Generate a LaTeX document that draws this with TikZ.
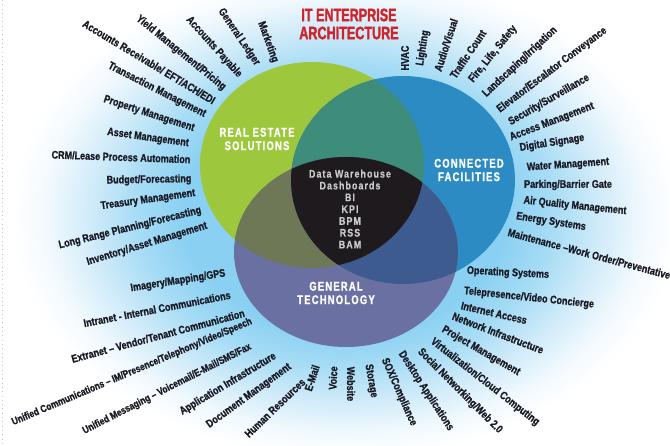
\documentclass[tikz,border=0pt]{standalone}
\usepackage{fontspec}
\setmainfont{Liberation Sans}
\newfontfamily\ringfont{Liberation Sans}[FakeStretch=0.82,FakeBold=1.1]
\newfontfamily\headfont{Liberation Sans}[FakeStretch=0.7,FakeBold=1.6]
\newfontfamily\vennfont{Liberation Sans}[FakeStretch=0.75,LetterSpace=10,FakeBold=1.2]
\newfontfamily\corefont{Liberation Sans}[FakeStretch=0.8,LetterSpace=10,FakeBold=0.6]

\definecolor{reGreen}{HTML}{9DC73C}
\definecolor{cfBlue}{HTML}{2D8BC3}
\definecolor{gtPurple}{HTML}{6B70A2}
\definecolor{gbTeal}{HTML}{3E8C7A}
\definecolor{gpOlive}{HTML}{6E7756}
\definecolor{bpNavy}{HTML}{3D5B8E}
\definecolor{coreBlack}{HTML}{1E1A1D}
\definecolor{coreText}{HTML}{C9C9CB}
\definecolor{ringText}{HTML}{1B1B26}
\definecolor{titleRed}{HTML}{D0232B}
\definecolor{glowA}{HTML}{8AD0F2}
\definecolor{glowB}{HTML}{A6DCF5}
\definecolor{glowC}{HTML}{D0EBF9}
\definecolor{glowD}{HTML}{F3FAFE}

% soft halo behind the diagram (25bp = rim of the shaded path)
\pgfdeclareradialshading{glow}{\pgfpoint{0bp}{0bp}}{color(0bp)=(glowA); color(12bp)=(glowA); color(15.5bp)=(glowB); color(19bp)=(glowC); color(22.5bp)=(glowD); color(25bp)=(white); color(50bp)=(white)}

% the three sets of the diagram
\newcommand\greenpath{(312,165) ellipse (112 and 103)}
\newcommand\bluepath{(403,180) ellipse (112 and 104)}
\newcommand\purplepath{(346,252) ellipse (112 and 95)}

\tikzset{
  ring/.style={font=\ringfont\bfseries\fontsize{11}{12}\selectfont, text=ringText, inner sep=0pt},
  longring/.style={ring, font=\ringfont\bfseries\fontsize{10.3}{12}\selectfont},
  headline/.style={font=\headfont\bfseries\fontsize{18}{18}\selectfont, text=titleRed, inner sep=0pt},
  vennlabel/.style={font=\vennfont\bfseries\fontsize{12.5}{13.5}\selectfont, text=white, align=center, inner sep=0pt},
  corelabel/.style={font=\corefont\bfseries\fontsize{11}{11.8}\selectfont, text=coreText, align=center, inner sep=0pt},
}

\begin{document}
\begin{tikzpicture}[x=1pt,y=-1pt]
\useasboundingbox (0,0) rectangle (670,446);
\fill[white] (0,0) rectangle (670,446);
\shade[shading=glow] (345,215) ellipse (335 and 245);
\draw[gray!45, line width=0.7pt, dash pattern=on 0.8pt off 3.5pt] (2,0) -- (2,446);

% Venn regions
\fill[reGreen] \greenpath;
\fill[cfBlue] \bluepath;
\fill[gtPurple] \purplepath;
\begin{scope}\clip \greenpath; \fill[gbTeal] \bluepath; \end{scope}
\begin{scope}\clip \greenpath; \fill[gpOlive] \purplepath; \end{scope}
\begin{scope}\clip \bluepath; \fill[bpNavy] \purplepath; \end{scope}
\begin{scope}\clip \greenpath; \clip \bluepath; \fill[coreBlack] \purplepath; \end{scope}

% title
\node[headline] (title1) at (349,15) {IT ENTERPRISE};
\node[headline] (title2) at (349,33) {ARCHITECTURE};

% set names and the shared core
\node[vennlabel] (reLabel) at (257,139) {REAL ESTATE\\SOLUTIONS};
\node[vennlabel] (cfLabel) at (469,170) {CONNECTED\\FACILITIES};
\node[vennlabel] (gtLabel) at (336,293) {GENERAL\\TECHNOLOGY};
\node[corelabel] (core) at (350,209) {Data Warehouse\\Dashboards\\BI\\KPI\\BPM\\RSS\\BAM};

% real estate solutions
\node[ring, rotate=-70] (re01) at (268,42) {Marketing};
\node[ring, rotate=-56] (re02) at (239,37) {General Ledger};
\node[ring, rotate=-48] (re03) at (214,47) {Accounts Payable};
\node[ring, rotate=-39] (re04) at (181,53) {Yield Management/Pricing};
\node[ring, rotate=-31] (re05) at (149,62) {Accounts Receivable/ EFT/ACH/EDI};
\node[ring, rotate=-27] (re06) at (157,90) {Transaction Management};
\node[ring, rotate=-18] (re07) at (149,114) {Property Management};
\node[ring, rotate=-8] (re08) at (148,138) {Asset Management};
\node[ring, rotate=-2] (re09) at (121,157) {CRM/Lease Process Automation};
\node[ring, rotate=1] (re10) at (149,180) {Budget/Forecasting};
\node[ring, rotate=8] (re11) at (148,200) {Treasury Management};
\node[ring, rotate=14] (re12) at (130,228) {Long Range Planning/Forecasting};
\node[ring, rotate=17] (re13) at (147,244) {Inventory/Asset Management};

% general technology
\node[ring, rotate=9] (gt01) at (178,281) {Imagery/Mapping/GPS};
\node[ring, rotate=11] (gt02) at (157,309) {Intranet - Internal Communications};
\node[ring, rotate=15] (gt03) at (158,336) {Extranet – Vendor/Tenant Communication};
\node[longring, rotate=23] (gt04) at (132,372) {Unified Communications – IM/Presence/Telephony/Video/Speech};
\node[longring, rotate=27] (gt05) at (167,389) {Unified Messaging – Voicemail/E-Mail/SMS/Fax};
\node[ring, rotate=31] (gt06) at (228,384) {Application Infrastructure};
\node[ring, rotate=36] (gt07) at (249,396) {Document Management};
\node[ring, rotate=44] (gt08) at (275,408) {Human Resources};
\node[ring, rotate=72] (gt09) at (312,378) {E-Mail};
\node[ring, rotate=87] (gt10) at (333,378) {Voice};
\node[ring, rotate=-90] (gt11) at (351,384) {Website};
\node[ring, rotate=-80] (gt12) at (371,381) {Storage};
\node[ring, rotate=-66] (gt13) at (399,392) {SOX/Compliance};
\node[ring, rotate=-57] (gt14) at (426,391) {Desktop Applications};
\node[ring, rotate=-45] (gt15) at (460,391) {Social Networking/Web 2.0};
\node[ring, rotate=-38] (gt16) at (485,382) {Virtualization/Cloud Computing};
\node[ring, rotate=-30] (gt17) at (481,351) {Project Management};
\node[ring, rotate=-21] (gt18) at (498,333) {Network Infrastructure};
\node[ring, rotate=-13] (gt19) at (494,313) {Internet Access};
\node[ring, rotate=-6] (gt20) at (529,298) {Telepresence/Video Concierge};
\node[ring, rotate=-3] (gt21) at (508,273) {Operating Systems};

% connected facilities
\node[ring, rotate=90] (cf01) at (405,58) {HVAC};
\node[ring, rotate=81] (cf02) at (423,48) {Lighting};
\node[ring, rotate=72] (cf03) at (446,45) {Audio/Visual};
\node[ring, rotate=56] (cf04) at (468,54) {Traffic Count};
\node[ring, rotate=51] (cf05) at (493,54) {Fire, Life, Safety};
\node[ring, rotate=43] (cf06) at (520,62) {Landscaping/Irrigation};
\node[ring, rotate=37] (cf07) at (552,70) {Elevator/Escalator Conveyance};
\node[ring, rotate=30] (cf08) at (549,100) {Security/Surveillance};
\node[ring, rotate=21] (cf09) at (552,122) {Access Management};
\node[ring, rotate=9] (cf10) at (552,143) {Digital Signage};
\node[ring, rotate=4] (cf11) at (568,165) {Water Management};
\node[ring, rotate=0] (cf12) at (568,185) {Parking/Barrier Gate};
\node[ring, rotate=-6] (cf13) at (575,206) {Air Quality Management};
\node[ring, rotate=-9] (cf14) at (551,222) {Energy Systems};
\node[ring, rotate=-15, anchor=west] (cf15) at (508,232) {Maintenance –Work Order/Preventative};
\end{tikzpicture}
\end{document}
